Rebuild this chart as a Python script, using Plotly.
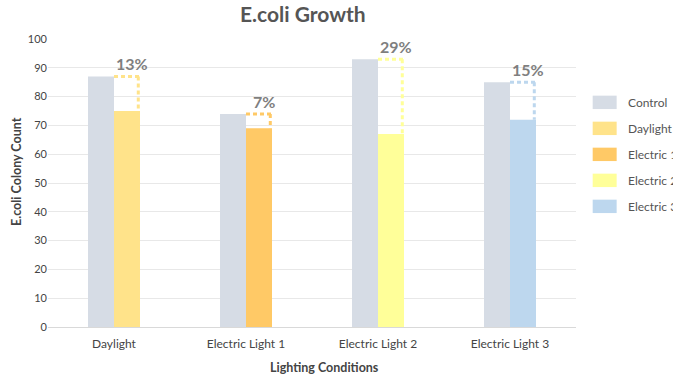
import plotly.graph_objects as go

# Colony counts per lighting condition
categories = ["Daylight", "Electric Light 1", "Electric Light 2", "Electric Light 3"]
control_counts = [87, 74, 93, 85]
treated_counts = [75, 69, 67, 72]
series_names = ["Control", "Daylight", "Electric 1", "Electric 2", "Electric 3"]
series_colors = ["#d6dce5", "#ffe38a", "#ffc966", "#ffff99", "#bdd7ee"]
reduction_labels = ["13%", "7%", "29%", "15%"]

FONT = "Lato"
bar_w = 0.197
xpos = list(range(len(categories)))

fig = go.Figure()

# Control bars, left half of each group
fig.add_trace(go.Bar(
    x=xpos, y=control_counts, width=bar_w, offset=-bar_w,
    marker=dict(color=series_colors[0], line=dict(width=0)),
    name=series_names[0], showlegend=False, hoverinfo="y",
))

# One treated bar per condition, each in its own colour
for i, val in enumerate(treated_counts):
    fig.add_trace(go.Bar(
        x=[xpos[i]], y=[val], width=bar_w, offset=0,
        marker=dict(color=series_colors[i + 1], line=dict(width=0)),
        name=series_names[i + 1], showlegend=False, hoverinfo="y",
    ))

# Dotted connector from control height down to the treated bar, with % label
for i in xpos:
    c = series_colors[i + 1]
    top, low = control_counts[i], treated_counts[i]
    xr = xpos[i] + bar_w - 0.013
    fig.add_shape(type="line", x0=xpos[i], x1=xr + 0.011, y0=top, y1=top,
                  line=dict(color=c, width=3, dash="4px,3px"), layer="above")
    fig.add_shape(type="line", x0=xr, x1=xr, y0=top, y1=low,
                  line=dict(color=c, width=3, dash="4px,3px"), layer="above")
    fig.add_annotation(x=xpos[i] + bar_w / 2, y=top, text=reduction_labels[i],
                       showarrow=False, yanchor="bottom", xanchor="center",
                       xshift=5, yshift=1,
                       font=dict(family=FONT, size=16, color="#7f7f7f", weight="bold"))

# Legend drawn as swatches and labels to the right of the plot
leg_x0, leg_x1, leg_tx = 1.0316, 1.077, 1.0947
for k, (nm, col) in enumerate(zip(series_names, series_colors)):
    yc = 0.780 - k * 26 / 288
    h = 6.7 / 288
    fig.add_shape(type="rect", xref="paper", yref="paper",
                  x0=leg_x0, x1=leg_x1, y0=yc - h, y1=yc + h,
                  fillcolor=col, line=dict(width=0))
    fig.add_annotation(xref="paper", yref="paper", x=leg_tx, y=yc, text=nm,
                       showarrow=False, xanchor="left", yanchor="middle",
                       font=dict(family=FONT, size=12, color="#555555"))

# Axis titles
fig.add_annotation(xref="paper", yref="paper", x=(16 - 48) / 528, y=(327 - 172) / 288,
                   text="<b>E.coli Colony Count</b>", textangle=-90, showarrow=False,
                   xanchor="center", yanchor="middle",
                   font=dict(family=FONT, size=12.5, color="#444444"))
fig.add_annotation(xref="paper", yref="paper", x=(324 - 48) / 528, y=(327 - 367) / 288,
                   text="<b>Lighting Conditions</b>", showarrow=False,
                   xanchor="center", yanchor="middle",
                   font=dict(family=FONT, size=12.5, color="#444444"))

fig.update_layout(
    width=673, height=374,
    margin=dict(l=48, r=97, t=39, b=47, autoexpand=False),
    paper_bgcolor="white", plot_bgcolor="white",
    barmode="overlay",
    showlegend=False,
    title=dict(text="<b>E.coli Growth</b>", x=0.45, xanchor="center", y=0.96, yanchor="middle",
               font=dict(family=FONT, size=21, color="#555555")),
    font=dict(family=FONT, size=11, color="#444444"),
)

fig.update_xaxes(
    range=[-0.5, 3.5], tickmode="array", tickvals=xpos, ticktext=categories,
    showgrid=False, zeroline=False, showline=True, linecolor="#d9d9d9", linewidth=1,
    ticks="", ticklabelstandoff=6, automargin=False,
    tickfont=dict(family=FONT, size=12, color="#444444"),
)
fig.update_yaxes(
    range=[0, 100], dtick=10, showgrid=True, gridcolor="#e8e8e8", gridwidth=1,
    zeroline=False, showline=False, ticks="", automargin=False,
    tickfont=dict(family=FONT, size=11, color="#444444"),
)

fig.write_html("out.html")
